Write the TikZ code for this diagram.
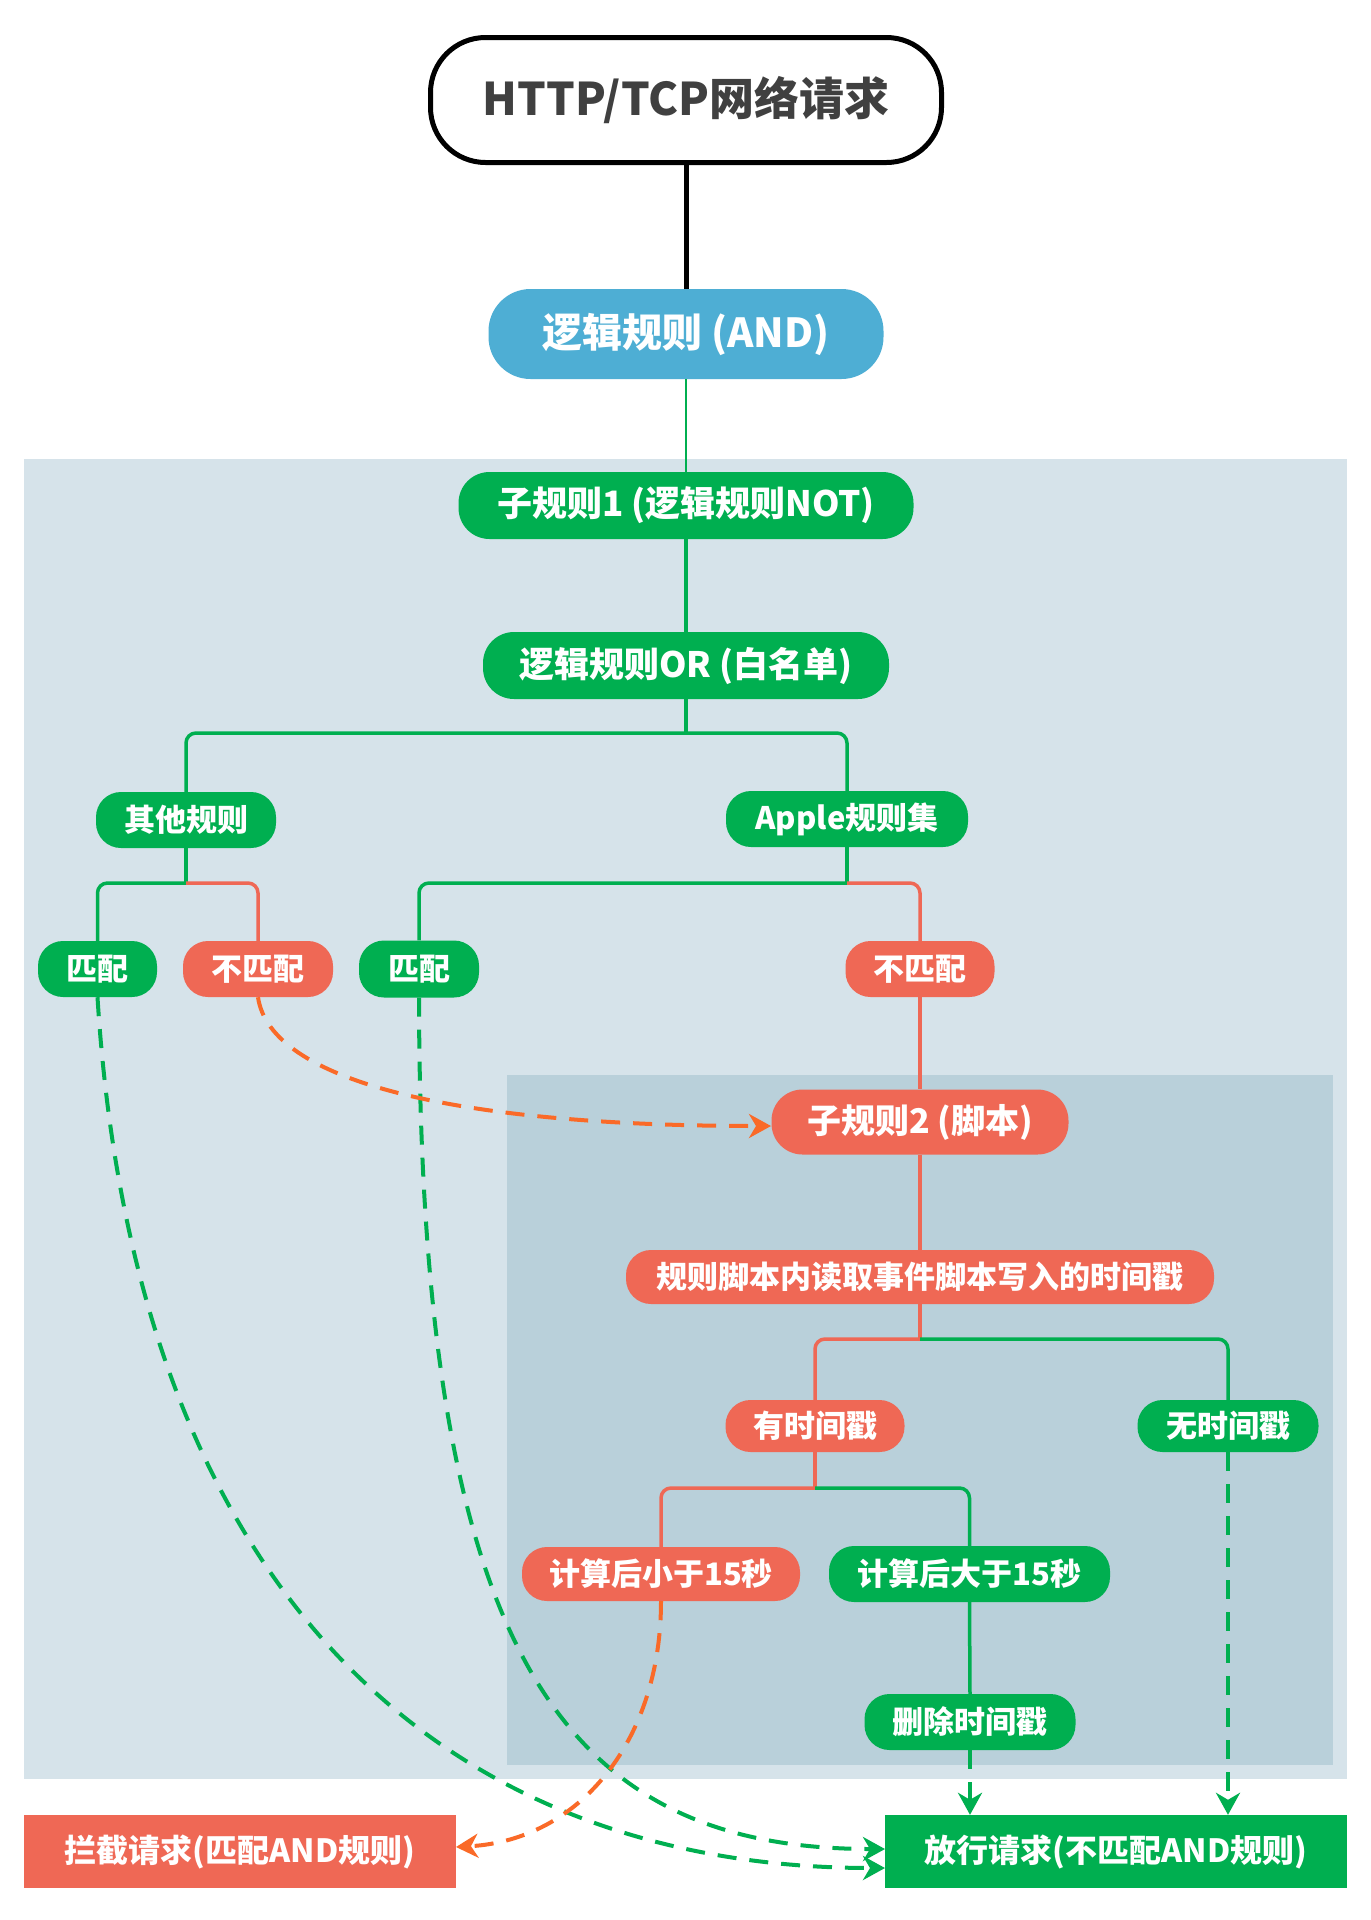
\documentclass[tikz,border=0pt]{standalone}
\usepackage{fontspec}
\setmainfont{Noto Sans CJK SC}
\usetikzlibrary{arrows.meta}
\definecolor{cgreen}{RGB}{0,175,80}
\definecolor{cred}{RGB}{239,104,85}
\definecolor{cblue}{RGB}{78,174,212}
\definecolor{clight}{RGB}{214,227,234}
\definecolor{cdark}{RGB}{185,208,218}
\definecolor{corange}{RGB}{250,106,40}
\definecolor{ctext}{RGB}{64,64,64}
\begin{document}
\begin{tikzpicture}[x=1pt,y=-1pt,
  pill/.style={inner sep=0pt, text=white, font=\bfseries\fontsize{31}{31}\selectfont, rounded corners=25pt, minimum height=55pt},
  gp/.style={pill, fill=cgreen},
  rp/.style={pill, fill=cred},
  bigpill/.style={font=\bfseries\fontsize{35}{35}\selectfont, rounded corners=31pt, minimum height=67pt},
  endbox/.style={font=\bfseries\fontsize{32}{32}\selectfont, rounded corners=0pt, minimum height=73pt},
  gl/.style={draw=cgreen, line width=3.5pt, rounded corners=10pt},
  rl/.style={draw=cred, line width=3.5pt, rounded corners=10pt},
  gd/.style={draw=cgreen, line width=4pt, dash pattern=on 19pt off 13pt, -{Stealth[length=22pt,width=24pt,inset=7pt]}},
  od/.style={draw=corange, line width=4pt, dash pattern=on 19pt off 13pt, -{Stealth[length=22pt,width=24pt,inset=7pt]}}
]
\useasboundingbox (0,0) rectangle (1371,1920);
\fill[white] (0,0) rectangle (1371,1920);
\fill[clight] (24,459) rectangle (1347,1779);
\fill[cdark] (507,1075) rectangle (1333,1765);

\node[draw=black, line width=5pt, fill=white, rounded corners=55pt, minimum width=511pt, minimum height=125pt, inner sep=0pt, text=ctext, font=\bfseries\fontsize{45}{45}\selectfont] (req) at (686,100) {HTTP/TCP网络请求};
\node[pill, fill=cblue, minimum width=395pt, minimum height=90pt, rounded corners=42pt, font=\bfseries\fontsize{40}{40}\selectfont] (andr) at (686,334) {逻辑规则 (AND)};
\node[gp, bigpill, minimum width=455pt] (s1) at (686,505.5) {子规则1 (逻辑规则NOT)};
\node[gp, bigpill, minimum width=406pt] (orr) at (686,665.5) {逻辑规则OR (白名单)};
\node[gp, minimum width=180pt, minimum height=56pt] (other) at (186,820) {其他规则};
\node[gp, minimum width=242pt, minimum height=56pt] (apple) at (847,819) {Apple规则集};
\node[gp, minimum width=119pt, minimum height=56pt] (m1) at (97.5,969) {匹配};
\node[rp, minimum width=150pt, minimum height=56pt] (n1) at (258,969) {不匹配};
\node[gp, minimum width=120pt, minimum height=57pt] (m2) at (419,969) {匹配};
\node[rp, minimum width=149pt, minimum height=56pt] (n2) at (920,969) {不匹配};
\node[rp, bigpill, font=\bfseries\fontsize{34}{34}\selectfont, minimum width=297pt, minimum height=65pt] (s2) at (920,1122) {子规则2 (脚本)};
\node[rp, minimum width=588pt, minimum height=54pt] (readts) at (920,1277) {规则脚本内读取事件脚本写入的时间戳};
\node[rp, minimum width=179pt, minimum height=52pt] (hasts) at (815,1426) {有时间戳};
\node[gp, minimum width=181pt, minimum height=52pt] (nots) at (1228,1426) {无时间戳};
\node[rp, minimum width=278pt, minimum height=54pt] (lt) at (661,1574) {计算后小于15秒};
\node[gp, minimum width=281pt, minimum height=56pt] (gt) at (969.5,1574) {计算后大于15秒};
\node[gp, minimum width=211pt, minimum height=56pt] (del) at (970,1722) {删除时间戳};
\node[rp, endbox, minimum width=432pt] (block) at (240,1851.5) {拦截请求(匹配AND规则)};
\node[gp, endbox, minimum width=462pt] (pass) at (1116,1851.5) {放行请求(不匹配AND规则)};

\draw[black, line width=5pt] (req.south) -- (andr.north);
\draw[cgreen, line width=2.5pt] (andr.south) -- (s1.north);
\draw[gl] (s1.south) -- (orr.north);
\coordinate (b1) at (686,733);
\draw[gl] (orr.south) -- (b1);
\draw[gl] (b1) -| (other.north);
\draw[gl] (b1) -| (apple.north);
\coordinate (b2) at (186,883);
\draw[gl] (other.south) -- (b2);
\draw[gl] (b2) -| (m1.north);
\draw[rl] (b2) -| (n1.north);
\coordinate (b3) at (847,883);
\draw[gl] (apple.south) -- (b3);
\draw[gl] (b3) -| (m2.north);
\draw[rl] (b3) -| (n2.north);
\draw[rl] (n2.south) -- (s2.north);
\draw[rl] (s2.south) -- (readts.north);
\coordinate (b4) at (920,1339);
\draw[rl] (readts.south) -- (b4);
\draw[rl] (b4) -| (hasts.north);
\draw[gl] (b4) -| (nots.north);
\coordinate (b5) at (815,1488);
\draw[rl] (hasts.south) -- (b5);
\draw[rl] (b5) -| (lt.north);
\draw[gl] (b5) -| (gt.north);
\draw[gl] (gt.south) -- (del.north);

\draw[gd] (del.south) -- (del.south |- pass.north);
\draw[gd] (nots.south) -- (nots.south |- pass.north);
\coordinate (pa) at (885,1868);
\coordinate (pb) at (885,1849);
\draw[gd] (m1.south) .. controls (135,1600) and (450,1868) .. (pa);
\draw[gd] (m2.south) .. controls (420,1650) and (560,1849) .. (pb);
\coordinate (ra) at (456,1847);
\draw[od] (lt.south) .. controls (661,1740) and (580,1840) .. (ra);
\coordinate (sa) at (771,1126);
\draw[od] (n1.south) .. controls (270,1080) and (450,1126) .. (sa);
\end{tikzpicture}
\end{document}
